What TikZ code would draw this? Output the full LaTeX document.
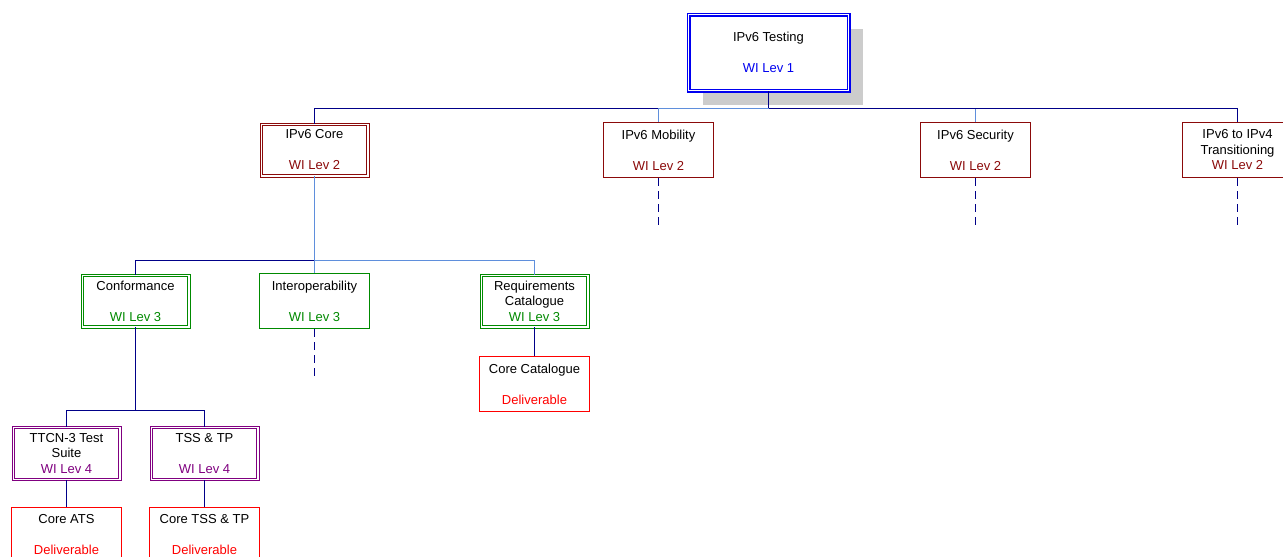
\documentclass[tikz,border=0pt]{standalone}
\usepackage{fontspec}
\setmainfont{Liberation Sans}
\usepackage{tikz}
\usetikzlibrary{positioning, calc, shadows}
\definecolor{LevOneBlue}{HTML}{0000F0}
\definecolor{LevTwoRed}{HTML}{8B0A0A}
\definecolor{LevThreeGreen}{HTML}{008A00}
\definecolor{LevFourPurple}{HTML}{800080}
\definecolor{DelivRed}{HTML}{FF0000}
\definecolor{WireNavy}{HTML}{000088}
\definecolor{WireLight}{HTML}{5F8FDC}
\definecolor{ShadowGray}{HTML}{CCCCCC}

\tikzset{
    wbox/.style={draw, line width=1pt, fill=white, minimum width=110pt,
                 minimum height=55pt, inner sep=2pt, align=center},
    dbox/.style={wbox, line width=1pt, double, double distance=1.4pt,
                 minimum width=106.6pt, minimum height=51.6pt},
    wire/.style={draw=WireNavy, line width=1.1pt},
    litewire/.style={draw=WireLight, line width=1.1pt},
    stub/.style={wire, dash pattern=on 8pt off 5pt}
}

\begin{document}
\begin{tikzpicture}[x=1pt, y=-1pt, font=\fontsize{13}{15.5}\selectfont]
    \useasboundingbox (0,0) rectangle (1283,557);

    % Nodes
    \node (top) [dbox, draw=LevOneBlue, line width=1.3pt, minimum width=160pt,
                 minimum height=76pt,
                 drop shadow={shadow xshift=14pt, shadow yshift=-14pt,
                              fill=ShadowGray, opacity=1}]
          at (768.5,52.5) {IPv6 Testing\\~\\\textcolor{LevOneBlue}{WI Lev 1}};

    \node (core) [dbox, draw=LevTwoRed] at (314.5,150)
          {IPv6 Core\\~\\\textcolor{LevTwoRed}{WI Lev 2}};
    \node (mob) [wbox, draw=LevTwoRed] at (658.5,150)
          {IPv6 Mobility\\~\\\textcolor{LevTwoRed}{WI Lev 2}};
    \node (sec) [wbox, draw=LevTwoRed] at (975.5,150)
          {IPv6 Security\\~\\\textcolor{LevTwoRed}{WI Lev 2}};
    \node (trans) [wbox, draw=LevTwoRed] at (1237.5,150)
          {IPv6 to IPv4\\Transitioning\\\textcolor{LevTwoRed}{WI Lev 2}};

    \node (conf) [dbox, draw=LevThreeGreen] at (135.5,301)
          {Conformance\\~\\\textcolor{LevThreeGreen}{WI Lev 3}};
    \node (interop) [wbox, draw=LevThreeGreen] at (314.5,301)
          {Interoperability\\~\\\textcolor{LevThreeGreen}{WI Lev 3}};
    \node (req) [dbox, draw=LevThreeGreen] at (534.5,301)
          {Requirements\\Catalogue\\\textcolor{LevThreeGreen}{WI Lev 3}};
    \node (cat) [wbox, draw=DelivRed, below=29pt of req]
          {Core Catalogue\\~\\\textcolor{DelivRed}{Deliverable}};

    \node (ttcn) [dbox, draw=LevFourPurple] at (66.5,453.5)
          {TTCN-3 Test\\Suite\\\textcolor{LevFourPurple}{WI Lev 4}};
    \node (tss) [dbox, draw=LevFourPurple] at (204.5,453.5)
          {TSS \& TP\\~\\\textcolor{LevFourPurple}{WI Lev 4}};
    \node (ats) [wbox, draw=DelivRed, below=27pt of ttcn]
          {Core ATS\\~\\\textcolor{DelivRed}{Deliverable}};
    \node (coretss) [wbox, draw=DelivRed, below=27pt of tss]
          {Core TSS \& TP\\~\\\textcolor{DelivRed}{Deliverable}};

    % Bus points
    \coordinate (hubA) at (768.5,108.5);
    \coordinate (hubB) at (314.5,260.5);
    \coordinate (hubC) at (135.5,410.5);

    % Paths
    \draw[litewire] (hubA) -| (sec.north);
    \draw[wire] (top.south) -- (hubA) -| (trans.north);
    \draw[wire] (hubA) -| (core.north);
    \draw[litewire] (hubA) -| (mob.north);

    \draw[stub] (mob.south) -- ++(0,51);
    \draw[stub] (sec.south) -- ++(0,51);
    \draw[stub] (trans.south) -- ++(0,51);

    \draw[wire] (hubB) -| (conf.north);
    \draw[litewire] (hubB) -| (req.north);
    \draw[litewire] (core.south) -- (hubB) -- (interop.north);
    \draw[stub] (interop.south) -- ++(0,50);
    \draw[wire] (req.south) -- (cat.north);

    \draw[wire] (conf.south) -- (hubC) -| (ttcn.north);
    \draw[wire] (hubC) -| (tss.north);
    \draw[wire] (ttcn.south) -- (ats.north);
    \draw[wire] (tss.south) -- (coretss.north);
\end{tikzpicture}
\end{document}
